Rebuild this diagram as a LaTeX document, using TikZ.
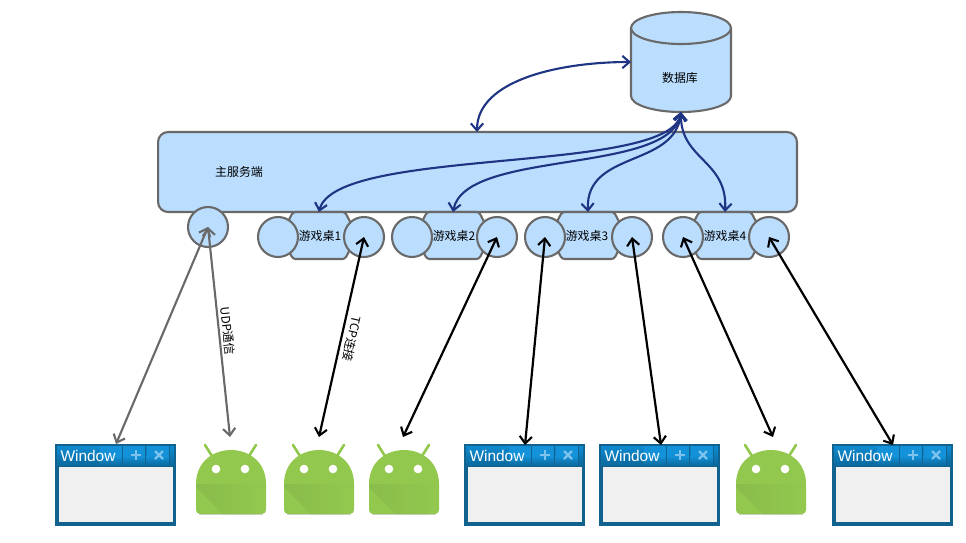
\documentclass[tikz,border=0pt]{standalone}
\usepackage{fontspec}
\setmainfont{Liberation Sans}
\newfontfamily\cjk{Noto Sans CJK SC}
\usetikzlibrary{positioning,calc,arrows.meta}
\definecolor{boxblue}{HTML}{BBDEFF}
\definecolor{boxline}{HTML}{696969}
\definecolor{curveblue}{HTML}{1F3583}
\definecolor{winblue}{HTML}{11628E}
\definecolor{wintop}{HTML}{0E8AD0}
\definecolor{winbottom}{HTML}{0B6A9E}
\definecolor{winlight}{HTML}{1392DA}
\definecolor{droid}{HTML}{92C84E}
\definecolor{droiddark}{HTML}{89BC4B}
\tikzset{>={Straight Barb[length=4pt,width=7pt,line width=1.2pt]},
  box/.style={draw=boxline,fill=boxblue,line width=1.2pt,inner sep=0pt,outer sep=0pt},
  port/.style={box,circle,minimum size=.8cm},
  desklabel/.style={font=\cjk\fontsize{6.8}{8}\selectfont},
  dbline/.style={<->,draw=curveblue,line width=1.2pt},
  tcpline/.style={<->,black,line width=1.25pt},
  udpline/.style={<->,draw=boxline,line width=1.2pt},
  note/.style={font=\cjk\fontsize{6.8}{8}\selectfont},
  desk/.pic={
    \path[box,rounded corners=.05cm] (-26,-23.5) -- (26,-23.5) -- (32,-12) -- (32,12) -- (26,23.5) -- (-26,23.5) -- (-32,12) -- (-32,-12) -- cycle;
    \coordinate (-top) at (0,-23.5);
  },
  android/.pic={
    \draw[black!18,line width=.8pt] (-32,70.5) -- (32,70.5);
    \draw[droid,line width=1.5pt,line cap=round] (-26,1) -- (-19,12);
    \draw[droid,line width=1.5pt,line cap=round] (25,1) -- (18,12);
    \fill[droid] (-35,40) .. controls (-35,18) and (-18,6) .. (0,6) .. controls (18,6) and (35,18) .. (35,40) -- cycle;
    \fill[droid,rounded corners=.08cm] (-35,38) rectangle (35,70);
    \shade[left color=droiddark,right color=droid] (-35,40) -- (35,40) -- (35,43) -- (25,43) -- (25,70) -- (-8,70) -- (-35,43) -- cycle;
    \fill[white] (-15,25) circle[radius=4.3];
    \fill[white] (14,25) circle[radius=4.3];
  },
  appwin/.pic={
    \fill[winblue] (0,0) rectangle (121,82);
    \shade[top color=wintop,bottom color=winbottom] (2,2) rectangle (119,21);
    \fill[winlight] (45,2) rectangle (67,16);
    \fill[winlight] (68,2) rectangle (90,16);
    \fill[winlight] (92,2) rectangle (114,16);
    \shade[top color=winlight,bottom color=winbottom] (45,12) rectangle (114,21);
    \fill[winblue] (67,1) rectangle (68,21);
    \fill[winblue] (90,1) rectangle (91,21);
    \fill[winblue] (114,1) rectangle (115,21);
    \fill[black!6] (4,23) rectangle (118,78);
    \draw[white!45!winlight,line width=1.3pt] (76,11) -- (86,11) (81,6) -- (81,16);
    \draw[white!45!winlight,line width=1.3pt] (100,7) -- (108,15) (108,7) -- (100,15);
    \node[white,font=\fontsize{8.8}{11}\selectfont] (-title) at (33,11.5) {Window};
  }
}

\begin{document}
\begin{tikzpicture}[x=.02cm,y=-.02cm]
\useasboundingbox (0,0) rectangle (966,542);
% server and database
\node[box,rounded corners=.2cm,minimum width=12.78cm,minimum height=1.6cm] (server) at (477.5,172) {};
\node[note] (serverlabel) at (239,172) {主服务端};
\node[minimum width=2cm,minimum height=2cm,inner sep=0pt,outer sep=0pt] (db) at (681,62) {};
\path[box] (631,28) -- (631,96) arc[start angle=180,end angle=0,x radius=50,y radius=16] -- (731,28) arc[start angle=0,end angle=-180,x radius=50,y radius=16] -- cycle;
\draw[boxline,line width=1.2pt] (631,28) arc[start angle=180,end angle=0,x radius=50,y radius=16];
\node[note] (dblabel) at (680,78) {数据库};
% game tables
\node[port] (udp) at (208,227) {};
\pic (t1) at (319,235.5) {desk};
\pic (t2) at (453,235.5) {desk};
\pic (t3) at (588,235.5) {desk};
\pic (t4) at (725,235.5) {desk};
\node[port] (t1a) at (278,237) {};
\node[port] (t1b) at (364,237) {};
\node[port] (t2a) at (412,237) {};
\node[port] (t2b) at (497,237) {};
\node[port] (t3a) at (545,237) {};
\node[port] (t3b) at (632,237) {};
\node[port] (t4a) at (683,237) {};
\node[port] (t4b) at (769,237) {};
\node[desklabel] (t1label) at (320,235.5) {游戏桌1};
\node[desklabel] (t2label) at (454,235.5) {游戏桌2};
\node[desklabel] (t3label) at (587,235.5) {游戏桌3};
\node[desklabel] (t4label) at (725,235.5) {游戏桌4};
% clients
\pic (w1) at (55,444) {appwin};
\pic (a1) at (231,444) {android};
\pic (a2) at (319,444) {android};
\pic (a3) at (404,444) {android};
\pic (w2) at (464,444) {appwin};
\pic (w3) at (599,444) {appwin};
\pic (a4) at (771,444) {android};
\pic (w4) at (832,444) {appwin};
\coordinate (c1) at (116,444);
\coordinate (c2) at (230,437);
\coordinate (c3) at (319,437);
\coordinate (c4) at (403,437);
\coordinate (c5) at (525,445);
\coordinate (c6) at (661,445);
\coordinate (c7) at (773,437);
\coordinate (c8) at (893,445);
\coordinate (servertop) at (477,132);
% links
\draw[dbline] (db.west) .. controls (560,62) and (477,80) .. (servertop);
\draw[dbline] (db.south) .. controls (670,175) and (335,146) .. (t1-top);
\draw[dbline] (db.south) .. controls (670,175) and (465,149) .. (t2-top);
\draw[dbline] (db.south) .. controls (675,168) and (585,150) .. (t3-top);
\draw[dbline] (db.south) .. controls (680,160) and (728,160) .. (t4-top);
\draw[udpline] (c1) -- (udp.center);
\draw[udpline] (c2) -- (udp.center);
\draw[tcpline] (c3) -- (t1b.center);
\draw[tcpline] (c4) -- (t2b.center);
\draw[tcpline] (c5) -- (t3a.center);
\draw[tcpline] (c6) -- (t3b.center);
\draw[tcpline] (c7) -- (t4a.center);
\draw[tcpline] (c8) -- (t4b.center);
\node[note,rotate=-84] (udplabel) at (228,331) {UDP通信};
\node[note,rotate=-103] (tcplabel) at (352,339) {TCP连接};
\end{tikzpicture}
\end{document}
